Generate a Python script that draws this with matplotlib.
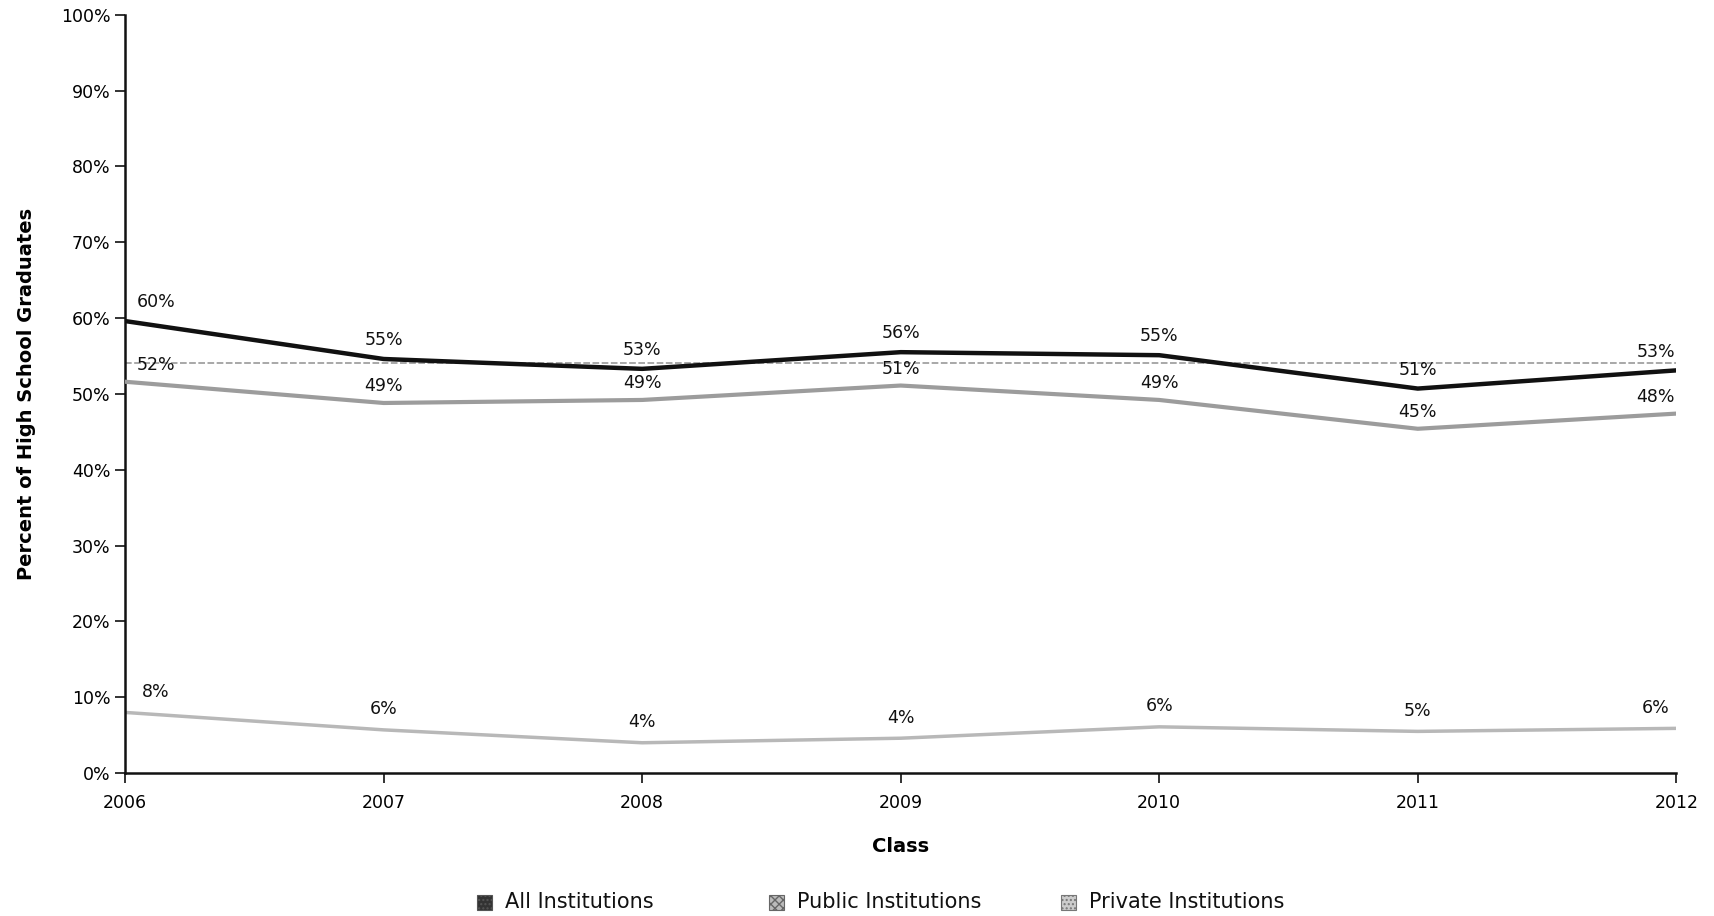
import matplotlib
matplotlib.use("Agg")
import matplotlib.pyplot as plt
from matplotlib.patches import Rectangle

years = [2006, 2007, 2008, 2009, 2010, 2011, 2012]
all_inst = [59.6, 54.6, 53.3, 55.5, 55.1, 50.7, 53.1]
public_inst = [51.6, 48.8, 49.2, 51.1, 49.2, 45.4, 47.4]
private_inst = [8.0, 5.7, 4.0, 4.6, 6.1, 5.5, 5.9]
all_labels = ["60%", "55%", "53%", "56%", "55%", "51%", "53%"]
public_labels = ["52%", "49%", "49%", "51%", "49%", "45%", "48%"]
private_labels = ["8%", "6%", "4%", "4%", "6%", "5%", "6%"]
reference_level = 54.1
series_names = ["All Institutions", "Public Institutions", "Private Institutions"]
yticks = list(range(0, 101, 10))

plt.rcParams['font.family'] = ['DejaVu Sans']
fig = plt.figure(figsize=(17.14, 9.16), dpi=100)
ax = fig.add_axes([0.073, 0.156, 0.905, 0.828])

ax.axhline(reference_level, color="#9a9a9a", lw=1.2, ls=(0, (4, 1.5)), zorder=1)
ax.plot(years, private_inst, color="#b8b8b8", lw=2.5, zorder=2)
ax.plot(years, public_inst, color="#9c9c9c", lw=3, zorder=3)
ax.plot(years, all_inst, color="#111111", lw=3.2, zorder=4)

def put_labels(vals, labels, dy):
    for i, (x, v, t) in enumerate(zip(years, vals, labels)):
        dx = 0.0
        if i == 0:
            dx = 0.12
        elif i == len(years) - 1:
            dx = -0.08
        ax.text(x + dx, v + dy, t, ha="center", va="bottom", fontsize=12.5, color="#111111", zorder=6)

put_labels(all_inst, all_labels, 1.3)
put_labels(public_inst, public_labels, 1.0)
put_labels(private_inst, private_labels, 1.5)

ax.set_xlim(2006, 2012)
ax.set_ylim(0, 100)
ax.set_yticks(yticks)
ax.set_yticklabels([f"{t}%" for t in yticks], fontsize=12.5)
ax.set_xticks(years)
ax.set_xticklabels([str(y) for y in years], fontsize=12.5)
ax.tick_params(axis="both", direction="out", length=7, width=1.2, color="#111111")
ax.tick_params(axis="x", pad=8)
for s in ["top", "right"]:
    ax.spines[s].set_visible(False)
for s in ["left", "bottom"]:
    ax.spines[s].set_linewidth(1.8)
    ax.spines[s].set_color("#111111")

ax.set_ylabel("Percent of High School Graduates", fontsize=14, fontweight="bold", labelpad=18)
ax.set_xlabel("Class", fontsize=14, fontweight="bold", labelpad=18)

# legend drawn with fixed-width columns, as in the reference
swatch_styles = [
    dict(facecolor="#333333", edgecolor="#555555", hatch="...."),
    dict(facecolor="#bbbbbb", edgecolor="#666666", hatch="xxxx"),
    dict(facecolor="#cccccc", edgecolor="#777777", hatch="...."),
]
W, H = fig.get_size_inches() * fig.dpi
x0, pitch, yc, sq = 477, 292, 902, 15
for i, (name, st) in enumerate(zip(series_names, swatch_styles)):
    xl = x0 + i * pitch
    fig.add_artist(Rectangle((xl / W, (H - yc - sq / 2) / H), sq / W, sq / H,
                             transform=fig.transFigure, lw=0.8, **st))
    fig.text((xl + 28) / W, (H - yc) / H, name, ha="left", va="center", fontsize=15, color="#111111")

fig.savefig("out.png", dpi=100)
